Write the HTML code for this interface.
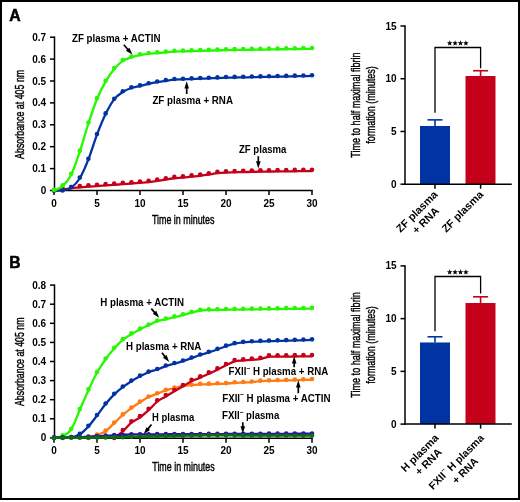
<!DOCTYPE html>
<html><head><meta charset="utf-8"><style>
html,body{margin:0;padding:0;background:#fff;}
svg{display:block;will-change:transform;}
</style></head><body>
<svg width="520" height="502" viewBox="0 0 520 502">
<rect x="0" y="0" width="520" height="502" fill="#fff"/>
<rect x="1" y="1" width="518" height="498" fill="none" stroke="#000" stroke-width="2"/>
<text x="9.2" y="20.5" font-size="15.8" font-weight="bold" stroke="#000" stroke-width="0.5" font-family="'Liberation Sans', sans-serif">A</text>
<text x="9.3" y="268.0" font-size="15.7" font-weight="bold" stroke="#000" stroke-width="0.5" font-family="'Liberation Sans', sans-serif">B</text>
<line x1="54.5" y1="36.45" x2="54.5" y2="191.25" stroke="#000" stroke-width="1.5"/>
<line x1="50.0" y1="190.5" x2="54.5" y2="190.5" stroke="#000" stroke-width="1.5"/><text x="46.2" y="194.0" text-anchor="end" font-size="10" font-weight="bold" font-family="'Liberation Sans', sans-serif">0</text>
<line x1="50.0" y1="168.6" x2="54.5" y2="168.6" stroke="#000" stroke-width="1.5"/><text x="46.2" y="172.1" text-anchor="end" font-size="10" font-weight="bold" font-family="'Liberation Sans', sans-serif">0.1</text>
<line x1="50.0" y1="146.7" x2="54.5" y2="146.7" stroke="#000" stroke-width="1.5"/><text x="46.2" y="150.2" text-anchor="end" font-size="10" font-weight="bold" font-family="'Liberation Sans', sans-serif">0.2</text>
<line x1="50.0" y1="124.8" x2="54.5" y2="124.8" stroke="#000" stroke-width="1.5"/><text x="46.2" y="128.3" text-anchor="end" font-size="10" font-weight="bold" font-family="'Liberation Sans', sans-serif">0.3</text>
<line x1="50.0" y1="102.89999999999999" x2="54.5" y2="102.89999999999999" stroke="#000" stroke-width="1.5"/><text x="46.2" y="106.39999999999999" text-anchor="end" font-size="10" font-weight="bold" font-family="'Liberation Sans', sans-serif">0.4</text>
<line x1="50.0" y1="81.0" x2="54.5" y2="81.0" stroke="#000" stroke-width="1.5"/><text x="46.2" y="84.5" text-anchor="end" font-size="10" font-weight="bold" font-family="'Liberation Sans', sans-serif">0.5</text>
<line x1="50.0" y1="59.099999999999994" x2="54.5" y2="59.099999999999994" stroke="#000" stroke-width="1.5"/><text x="46.2" y="62.599999999999994" text-anchor="end" font-size="10" font-weight="bold" font-family="'Liberation Sans', sans-serif">0.6</text>
<line x1="50.0" y1="37.19999999999999" x2="54.5" y2="37.19999999999999" stroke="#000" stroke-width="1.5"/><text x="46.2" y="40.69999999999999" text-anchor="end" font-size="10" font-weight="bold" font-family="'Liberation Sans', sans-serif">0.7</text>

<line x1="53.75" y1="190.5" x2="312.75" y2="190.5" stroke="#000" stroke-width="1.5"/>
<line x1="54.0" y1="190.5" x2="54.0" y2="195.0" stroke="#000" stroke-width="1.5"/><text x="54.0" y="206.8" text-anchor="middle" font-size="10" font-weight="bold" font-family="'Liberation Sans', sans-serif">0</text>
<line x1="97.0" y1="190.5" x2="97.0" y2="195.0" stroke="#000" stroke-width="1.5"/><text x="97.0" y="206.8" text-anchor="middle" font-size="10" font-weight="bold" font-family="'Liberation Sans', sans-serif">5</text>
<line x1="140.0" y1="190.5" x2="140.0" y2="195.0" stroke="#000" stroke-width="1.5"/><text x="140.0" y="206.8" text-anchor="middle" font-size="10" font-weight="bold" font-family="'Liberation Sans', sans-serif">10</text>
<line x1="183.0" y1="190.5" x2="183.0" y2="195.0" stroke="#000" stroke-width="1.5"/><text x="183.0" y="206.8" text-anchor="middle" font-size="10" font-weight="bold" font-family="'Liberation Sans', sans-serif">15</text>
<line x1="226.0" y1="190.5" x2="226.0" y2="195.0" stroke="#000" stroke-width="1.5"/><text x="226.0" y="206.8" text-anchor="middle" font-size="10" font-weight="bold" font-family="'Liberation Sans', sans-serif">20</text>
<line x1="269.0" y1="190.5" x2="269.0" y2="195.0" stroke="#000" stroke-width="1.5"/><text x="269.0" y="206.8" text-anchor="middle" font-size="10" font-weight="bold" font-family="'Liberation Sans', sans-serif">25</text>
<line x1="312.0" y1="190.5" x2="312.0" y2="195.0" stroke="#000" stroke-width="1.5"/><text x="312.0" y="206.8" text-anchor="middle" font-size="10" font-weight="bold" font-family="'Liberation Sans', sans-serif">30</text>

<path d="M54.00,190.50 C55.43,190.35 59.73,189.99 62.60,189.62 C65.47,189.26 68.33,188.68 71.20,188.31 C74.07,187.94 76.93,187.73 79.80,187.43 C82.67,187.14 85.53,186.78 88.40,186.56 C91.27,186.34 94.13,186.30 97.00,186.12 C99.87,185.94 102.73,185.68 105.60,185.46 C108.47,185.24 111.33,185.03 114.20,184.81 C117.07,184.59 119.93,184.37 122.80,184.15 C125.67,183.93 128.53,183.71 131.40,183.49 C134.27,183.27 137.13,183.05 140.00,182.84 C142.87,182.62 145.73,182.51 148.60,182.18 C151.47,181.85 154.33,181.30 157.20,180.86 C160.07,180.43 162.93,179.99 165.80,179.55 C168.67,179.11 171.53,178.56 174.40,178.24 C177.27,177.91 180.13,177.83 183.00,177.58 C185.87,177.32 188.73,177.00 191.60,176.70 C194.47,176.41 197.33,176.19 200.20,175.83 C203.07,175.46 205.93,174.95 208.80,174.51 C211.67,174.08 214.53,173.53 217.40,173.20 C220.27,172.87 223.13,172.69 226.00,172.54 C228.87,172.40 231.73,172.40 234.60,172.32 C237.47,172.25 240.33,172.18 243.20,172.10 C246.07,172.03 248.93,171.96 251.80,171.88 C254.67,171.81 257.53,171.72 260.40,171.67 C263.27,171.61 266.13,171.59 269.00,171.56 C271.87,171.52 274.73,171.48 277.60,171.45 C280.47,171.41 283.33,171.37 286.20,171.34 C289.07,171.30 291.93,171.26 294.80,171.23 C297.67,171.19 300.53,171.16 303.40,171.12 C306.27,171.08 310.57,171.03 312.00,171.01" fill="none" stroke="#c4001b" stroke-width="2.3" stroke-linejoin="round" stroke-linecap="round"/>
<circle cx="54.00" cy="190.50" r="2.3" fill="#c4001b"/><circle cx="62.60" cy="188.31" r="2.3" fill="#c4001b"/><circle cx="71.20" cy="187.00" r="2.3" fill="#c4001b"/><circle cx="79.80" cy="186.12" r="2.3" fill="#c4001b"/><circle cx="88.40" cy="185.24" r="2.3" fill="#c4001b"/><circle cx="97.00" cy="184.81" r="2.3" fill="#c4001b"/><circle cx="105.60" cy="184.15" r="2.3" fill="#c4001b"/><circle cx="114.20" cy="183.49" r="2.3" fill="#c4001b"/><circle cx="122.80" cy="182.84" r="2.3" fill="#c4001b"/><circle cx="131.40" cy="182.18" r="2.3" fill="#c4001b"/><circle cx="140.00" cy="181.52" r="2.3" fill="#c4001b"/><circle cx="148.60" cy="180.86" r="2.3" fill="#c4001b"/><circle cx="157.20" cy="179.55" r="2.3" fill="#c4001b"/><circle cx="165.80" cy="178.24" r="2.3" fill="#c4001b"/><circle cx="174.40" cy="176.92" r="2.3" fill="#c4001b"/><circle cx="183.00" cy="176.26" r="2.3" fill="#c4001b"/><circle cx="191.60" cy="175.39" r="2.3" fill="#c4001b"/><circle cx="200.20" cy="174.51" r="2.3" fill="#c4001b"/><circle cx="208.80" cy="173.20" r="2.3" fill="#c4001b"/><circle cx="217.40" cy="171.88" r="2.3" fill="#c4001b"/><circle cx="226.00" cy="171.23" r="2.3" fill="#c4001b"/><circle cx="234.60" cy="171.01" r="2.3" fill="#c4001b"/><circle cx="243.20" cy="170.79" r="2.3" fill="#c4001b"/><circle cx="251.80" cy="170.57" r="2.3" fill="#c4001b"/><circle cx="260.40" cy="170.35" r="2.3" fill="#c4001b"/><circle cx="269.00" cy="170.24" r="2.3" fill="#c4001b"/><circle cx="277.60" cy="170.13" r="2.3" fill="#c4001b"/><circle cx="286.20" cy="170.02" r="2.3" fill="#c4001b"/><circle cx="294.80" cy="169.91" r="2.3" fill="#c4001b"/><circle cx="303.40" cy="169.80" r="2.3" fill="#c4001b"/><circle cx="312.00" cy="169.69" r="2.3" fill="#c4001b"/>

<path d="M54.00,190.50 C55.43,190.50 59.73,190.97 62.60,190.50 C65.47,190.03 68.33,189.70 71.20,187.65 C74.07,185.61 76.93,182.94 79.80,178.24 C82.67,173.53 85.53,166.67 88.40,159.40 C91.27,152.14 94.13,142.21 97.00,134.66 C99.87,127.10 102.73,119.95 105.60,114.07 C108.47,108.19 111.33,103.08 114.20,99.40 C117.07,95.71 119.93,93.85 122.80,91.95 C125.67,90.05 128.53,88.99 131.40,88.01 C134.27,87.02 137.13,86.73 140.00,86.04 C142.87,85.34 145.73,84.50 148.60,83.85 C151.47,83.19 154.33,82.61 157.20,82.09 C160.07,81.58 162.93,81.18 165.80,80.78 C168.67,80.38 171.53,79.92 174.40,79.69 C177.27,79.45 180.13,79.47 183.00,79.36 C185.87,79.25 188.73,79.14 191.60,79.03 C194.47,78.92 197.33,78.81 200.20,78.70 C203.07,78.59 205.93,78.48 208.80,78.37 C211.67,78.26 214.53,78.15 217.40,78.04 C220.27,77.93 223.13,77.80 226.00,77.72 C228.87,77.63 231.73,77.60 234.60,77.54 C237.47,77.48 240.33,77.42 243.20,77.36 C246.07,77.31 248.93,77.25 251.80,77.19 C254.67,77.13 257.53,77.07 260.40,77.01 C263.27,76.96 266.13,76.90 269.00,76.84 C271.87,76.78 274.73,76.72 277.60,76.66 C280.47,76.61 283.33,76.55 286.20,76.49 C289.07,76.43 291.93,76.37 294.80,76.31 C297.67,76.25 300.53,76.20 303.40,76.14 C306.27,76.08 310.57,75.99 312.00,75.96" fill="none" stroke="#0233a3" stroke-width="2.3" stroke-linejoin="round" stroke-linecap="round"/>
<circle cx="54.00" cy="190.50" r="2.3" fill="#0233a3"/><circle cx="62.60" cy="190.50" r="2.3" fill="#0233a3"/><circle cx="71.20" cy="187.00" r="2.3" fill="#0233a3"/><circle cx="79.80" cy="177.58" r="2.3" fill="#0233a3"/><circle cx="88.40" cy="158.75" r="2.3" fill="#0233a3"/><circle cx="97.00" cy="134.00" r="2.3" fill="#0233a3"/><circle cx="105.60" cy="113.41" r="2.3" fill="#0233a3"/><circle cx="114.20" cy="98.74" r="2.3" fill="#0233a3"/><circle cx="122.80" cy="91.29" r="2.3" fill="#0233a3"/><circle cx="131.40" cy="87.35" r="2.3" fill="#0233a3"/><circle cx="140.00" cy="85.38" r="2.3" fill="#0233a3"/><circle cx="148.60" cy="83.19" r="2.3" fill="#0233a3"/><circle cx="157.20" cy="81.44" r="2.3" fill="#0233a3"/><circle cx="165.80" cy="80.12" r="2.3" fill="#0233a3"/><circle cx="174.40" cy="79.03" r="2.3" fill="#0233a3"/><circle cx="183.00" cy="78.70" r="2.3" fill="#0233a3"/><circle cx="191.60" cy="78.37" r="2.3" fill="#0233a3"/><circle cx="200.20" cy="78.04" r="2.3" fill="#0233a3"/><circle cx="208.80" cy="77.72" r="2.3" fill="#0233a3"/><circle cx="217.40" cy="77.39" r="2.3" fill="#0233a3"/><circle cx="226.00" cy="77.06" r="2.3" fill="#0233a3"/><circle cx="234.60" cy="76.88" r="2.3" fill="#0233a3"/><circle cx="243.20" cy="76.71" r="2.3" fill="#0233a3"/><circle cx="251.80" cy="76.53" r="2.3" fill="#0233a3"/><circle cx="260.40" cy="76.36" r="2.3" fill="#0233a3"/><circle cx="269.00" cy="76.18" r="2.3" fill="#0233a3"/><circle cx="277.60" cy="76.01" r="2.3" fill="#0233a3"/><circle cx="286.20" cy="75.83" r="2.3" fill="#0233a3"/><circle cx="294.80" cy="75.66" r="2.3" fill="#0233a3"/><circle cx="303.40" cy="75.48" r="2.3" fill="#0233a3"/><circle cx="312.00" cy="75.31" r="2.3" fill="#0233a3"/>

<path d="M54.00,190.50 C55.43,189.77 59.73,188.75 62.60,186.12 C65.47,183.49 68.33,180.50 71.20,174.73 C74.07,168.97 76.93,160.06 79.80,151.52 C82.67,142.98 85.53,132.25 88.40,123.49 C91.27,114.73 94.13,105.93 97.00,98.96 C99.87,91.99 102.73,86.66 105.60,81.66 C108.47,76.66 111.33,72.42 114.20,68.95 C117.07,65.49 119.93,62.79 122.80,60.85 C125.67,58.92 128.53,58.30 131.40,57.35 C134.27,56.40 137.13,55.74 140.00,55.16 C142.87,54.57 145.73,54.17 148.60,53.84 C151.47,53.52 154.33,53.44 157.20,53.19 C160.07,52.93 162.93,52.57 165.80,52.31 C168.67,52.06 171.53,51.81 174.40,51.65 C177.27,51.50 180.13,51.48 183.00,51.40 C185.87,51.31 188.73,51.23 191.60,51.14 C194.47,51.06 197.33,50.97 200.20,50.89 C203.07,50.80 205.93,50.72 208.80,50.63 C211.67,50.55 214.53,50.46 217.40,50.38 C220.27,50.29 223.13,50.19 226.00,50.12 C228.87,50.06 231.73,50.03 234.60,49.99 C237.47,49.95 240.33,49.90 243.20,49.86 C246.07,49.81 248.93,49.77 251.80,49.73 C254.67,49.68 257.53,49.64 260.40,49.60 C263.27,49.55 266.13,49.51 269.00,49.46 C271.87,49.42 274.73,49.38 277.60,49.33 C280.47,49.29 283.33,49.24 286.20,49.20 C289.07,49.16 291.93,49.11 294.80,49.07 C297.67,49.03 300.53,48.98 303.40,48.94 C306.27,48.89 310.57,48.83 312.00,48.81" fill="none" stroke="#26f800" stroke-width="2.3" stroke-linejoin="round" stroke-linecap="round"/>
<circle cx="54.00" cy="189.84" r="2.3" fill="#26f800"/><circle cx="62.60" cy="185.24" r="2.3" fill="#26f800"/><circle cx="71.20" cy="173.86" r="2.3" fill="#26f800"/><circle cx="79.80" cy="150.64" r="2.3" fill="#26f800"/><circle cx="88.40" cy="122.61" r="2.3" fill="#26f800"/><circle cx="97.00" cy="98.08" r="2.3" fill="#26f800"/><circle cx="105.60" cy="80.78" r="2.3" fill="#26f800"/><circle cx="114.20" cy="68.08" r="2.3" fill="#26f800"/><circle cx="122.80" cy="59.98" r="2.3" fill="#26f800"/><circle cx="131.40" cy="56.47" r="2.3" fill="#26f800"/><circle cx="140.00" cy="54.28" r="2.3" fill="#26f800"/><circle cx="148.60" cy="52.97" r="2.3" fill="#26f800"/><circle cx="157.20" cy="52.31" r="2.3" fill="#26f800"/><circle cx="165.80" cy="51.44" r="2.3" fill="#26f800"/><circle cx="174.40" cy="50.78" r="2.3" fill="#26f800"/><circle cx="183.00" cy="50.52" r="2.3" fill="#26f800"/><circle cx="191.60" cy="50.27" r="2.3" fill="#26f800"/><circle cx="200.20" cy="50.01" r="2.3" fill="#26f800"/><circle cx="208.80" cy="49.76" r="2.3" fill="#26f800"/><circle cx="217.40" cy="49.50" r="2.3" fill="#26f800"/><circle cx="226.00" cy="49.25" r="2.3" fill="#26f800"/><circle cx="234.60" cy="49.11" r="2.3" fill="#26f800"/><circle cx="243.20" cy="48.98" r="2.3" fill="#26f800"/><circle cx="251.80" cy="48.85" r="2.3" fill="#26f800"/><circle cx="260.40" cy="48.72" r="2.3" fill="#26f800"/><circle cx="269.00" cy="48.59" r="2.3" fill="#26f800"/><circle cx="277.60" cy="48.46" r="2.3" fill="#26f800"/><circle cx="286.20" cy="48.33" r="2.3" fill="#26f800"/><circle cx="294.80" cy="48.19" r="2.3" fill="#26f800"/><circle cx="303.40" cy="48.06" r="2.3" fill="#26f800"/><circle cx="312.00" cy="47.93" r="2.3" fill="#26f800"/>

<text x="72" y="42.3" font-size="10.0" font-weight="bold" text-anchor="start" textLength="88.4" lengthAdjust="spacingAndGlyphs" font-family="'Liberation Sans', sans-serif">ZF plasma + ACTIN</text>

<line x1="123.80" y1="44.80" x2="128.31" y2="49.94" stroke="#000" stroke-width="1.7"/><path d="M132.40,54.60 L125.92,50.71 L129.38,47.67 Z" fill="#000"/>

<text x="152.4" y="103.7" font-size="10.0" font-weight="bold" text-anchor="start" textLength="80.6" lengthAdjust="spacingAndGlyphs" font-family="'Liberation Sans', sans-serif">ZF plasma + RNA</text>

<line x1="186.70" y1="94.00" x2="186.70" y2="87.50" stroke="#000" stroke-width="1.7"/><path d="M186.70,81.30 L189.00,88.50 L184.40,88.50 Z" fill="#000"/>

<text x="239.0" y="152.8" font-size="10.0" font-weight="bold" text-anchor="start" textLength="47.4" lengthAdjust="spacingAndGlyphs" font-family="'Liberation Sans', sans-serif">ZF plasma</text>

<line x1="258.30" y1="156.20" x2="258.30" y2="162.20" stroke="#000" stroke-width="1.7"/><path d="M258.30,168.40 L256.00,161.20 L260.60,161.20 Z" fill="#000"/>

<text transform="translate(24.1,114.35) rotate(-90)" text-anchor="middle" font-size="13" textLength="89.1" lengthAdjust="spacingAndGlyphs" stroke="#000" stroke-width="0.42" font-family="'Liberation Sans', sans-serif">Absorbance at 405 nm</text>
<text x="151.9" y="223.9" font-size="13" textLength="62.6" lengthAdjust="spacingAndGlyphs" stroke="#000" stroke-width="0.42" font-family="'Liberation Sans', sans-serif">Time in minutes</text>
<line x1="54.5" y1="284.35" x2="54.5" y2="438.65" stroke="#000" stroke-width="1.5"/>
<line x1="50.0" y1="437.9" x2="54.5" y2="437.9" stroke="#000" stroke-width="1.5"/><text x="46.2" y="441.4" text-anchor="end" font-size="10" font-weight="bold" font-family="'Liberation Sans', sans-serif">0</text>
<line x1="50.0" y1="418.79999999999995" x2="54.5" y2="418.79999999999995" stroke="#000" stroke-width="1.5"/><text x="46.2" y="422.29999999999995" text-anchor="end" font-size="10" font-weight="bold" font-family="'Liberation Sans', sans-serif">0.1</text>
<line x1="50.0" y1="399.7" x2="54.5" y2="399.7" stroke="#000" stroke-width="1.5"/><text x="46.2" y="403.2" text-anchor="end" font-size="10" font-weight="bold" font-family="'Liberation Sans', sans-serif">0.2</text>
<line x1="50.0" y1="380.59999999999997" x2="54.5" y2="380.59999999999997" stroke="#000" stroke-width="1.5"/><text x="46.2" y="384.09999999999997" text-anchor="end" font-size="10" font-weight="bold" font-family="'Liberation Sans', sans-serif">0.3</text>
<line x1="50.0" y1="361.5" x2="54.5" y2="361.5" stroke="#000" stroke-width="1.5"/><text x="46.2" y="365.0" text-anchor="end" font-size="10" font-weight="bold" font-family="'Liberation Sans', sans-serif">0.4</text>
<line x1="50.0" y1="342.4" x2="54.5" y2="342.4" stroke="#000" stroke-width="1.5"/><text x="46.2" y="345.9" text-anchor="end" font-size="10" font-weight="bold" font-family="'Liberation Sans', sans-serif">0.5</text>
<line x1="50.0" y1="323.29999999999995" x2="54.5" y2="323.29999999999995" stroke="#000" stroke-width="1.5"/><text x="46.2" y="326.79999999999995" text-anchor="end" font-size="10" font-weight="bold" font-family="'Liberation Sans', sans-serif">0.6</text>
<line x1="50.0" y1="304.19999999999993" x2="54.5" y2="304.19999999999993" stroke="#000" stroke-width="1.5"/><text x="46.2" y="307.69999999999993" text-anchor="end" font-size="10" font-weight="bold" font-family="'Liberation Sans', sans-serif">0.7</text>
<line x1="50.0" y1="285.09999999999997" x2="54.5" y2="285.09999999999997" stroke="#000" stroke-width="1.5"/><text x="46.2" y="288.59999999999997" text-anchor="end" font-size="10" font-weight="bold" font-family="'Liberation Sans', sans-serif">0.8</text>

<line x1="53.75" y1="438.2" x2="312.75" y2="438.2" stroke="#000" stroke-width="1.5"/>
<line x1="54.0" y1="438.2" x2="54.0" y2="442.7" stroke="#000" stroke-width="1.5"/><text x="54.0" y="454.2" text-anchor="middle" font-size="10" font-weight="bold" font-family="'Liberation Sans', sans-serif">0</text>
<line x1="97.0" y1="438.2" x2="97.0" y2="442.7" stroke="#000" stroke-width="1.5"/><text x="97.0" y="454.2" text-anchor="middle" font-size="10" font-weight="bold" font-family="'Liberation Sans', sans-serif">5</text>
<line x1="140.0" y1="438.2" x2="140.0" y2="442.7" stroke="#000" stroke-width="1.5"/><text x="140.0" y="454.2" text-anchor="middle" font-size="10" font-weight="bold" font-family="'Liberation Sans', sans-serif">10</text>
<line x1="183.0" y1="438.2" x2="183.0" y2="442.7" stroke="#000" stroke-width="1.5"/><text x="183.0" y="454.2" text-anchor="middle" font-size="10" font-weight="bold" font-family="'Liberation Sans', sans-serif">15</text>
<line x1="226.0" y1="438.2" x2="226.0" y2="442.7" stroke="#000" stroke-width="1.5"/><text x="226.0" y="454.2" text-anchor="middle" font-size="10" font-weight="bold" font-family="'Liberation Sans', sans-serif">20</text>
<line x1="269.0" y1="438.2" x2="269.0" y2="442.7" stroke="#000" stroke-width="1.5"/><text x="269.0" y="454.2" text-anchor="middle" font-size="10" font-weight="bold" font-family="'Liberation Sans', sans-serif">25</text>
<line x1="312.0" y1="438.2" x2="312.0" y2="442.7" stroke="#000" stroke-width="1.5"/><text x="312.0" y="454.2" text-anchor="middle" font-size="10" font-weight="bold" font-family="'Liberation Sans', sans-serif">30</text>

<path d="M54.00,437.90 C55.43,437.61 59.73,437.58 62.60,436.18 C65.47,434.78 68.33,433.89 71.20,429.50 C74.07,425.10 76.93,416.38 79.80,409.82 C82.67,403.27 85.53,396.33 88.40,390.15 C91.27,383.97 94.13,377.93 97.00,372.77 C99.87,367.61 102.73,363.25 105.60,359.21 C108.47,355.17 111.33,351.73 114.20,348.51 C117.07,345.30 119.93,342.30 122.80,339.92 C125.67,337.53 128.53,335.94 131.40,334.19 C134.27,332.44 137.13,330.91 140.00,329.41 C142.87,327.92 145.73,326.58 148.60,325.21 C151.47,323.84 154.33,322.19 157.20,321.20 C160.07,320.21 162.93,319.96 165.80,319.29 C168.67,318.62 171.53,317.89 174.40,317.19 C177.27,316.49 180.13,315.85 183.00,315.09 C185.87,314.32 188.73,313.37 191.60,312.60 C194.47,311.84 197.33,310.92 200.20,310.50 C203.07,310.09 205.93,310.22 208.80,310.12 C211.67,310.03 214.53,309.99 217.40,309.93 C220.27,309.87 223.13,309.79 226.00,309.74 C228.87,309.69 231.73,309.66 234.60,309.62 C237.47,309.59 240.33,309.55 243.20,309.51 C246.07,309.47 248.93,309.43 251.80,309.40 C254.67,309.36 257.53,309.32 260.40,309.28 C263.27,309.24 266.13,309.20 269.00,309.17 C271.87,309.13 274.73,309.09 277.60,309.05 C280.47,309.01 283.33,308.97 286.20,308.94 C289.07,308.90 291.93,308.86 294.80,308.82 C297.67,308.78 300.53,308.75 303.40,308.71 C306.27,308.67 310.57,308.61 312.00,308.59" fill="none" stroke="#26f800" stroke-width="2.3" stroke-linejoin="round" stroke-linecap="round"/>
<circle cx="54.00" cy="437.90" r="2.3" fill="#26f800"/><circle cx="62.60" cy="435.42" r="2.3" fill="#26f800"/><circle cx="71.20" cy="428.73" r="2.3" fill="#26f800"/><circle cx="79.80" cy="409.06" r="2.3" fill="#26f800"/><circle cx="88.40" cy="389.39" r="2.3" fill="#26f800"/><circle cx="97.00" cy="372.00" r="2.3" fill="#26f800"/><circle cx="105.60" cy="358.44" r="2.3" fill="#26f800"/><circle cx="114.20" cy="347.75" r="2.3" fill="#26f800"/><circle cx="122.80" cy="339.15" r="2.3" fill="#26f800"/><circle cx="131.40" cy="333.42" r="2.3" fill="#26f800"/><circle cx="140.00" cy="328.65" r="2.3" fill="#26f800"/><circle cx="148.60" cy="324.45" r="2.3" fill="#26f800"/><circle cx="157.20" cy="320.43" r="2.3" fill="#26f800"/><circle cx="165.80" cy="318.52" r="2.3" fill="#26f800"/><circle cx="174.40" cy="316.42" r="2.3" fill="#26f800"/><circle cx="183.00" cy="314.32" r="2.3" fill="#26f800"/><circle cx="191.60" cy="311.84" r="2.3" fill="#26f800"/><circle cx="200.20" cy="309.74" r="2.3" fill="#26f800"/><circle cx="208.80" cy="309.36" r="2.3" fill="#26f800"/><circle cx="217.40" cy="309.17" r="2.3" fill="#26f800"/><circle cx="226.00" cy="308.97" r="2.3" fill="#26f800"/><circle cx="234.60" cy="308.86" r="2.3" fill="#26f800"/><circle cx="243.20" cy="308.75" r="2.3" fill="#26f800"/><circle cx="251.80" cy="308.63" r="2.3" fill="#26f800"/><circle cx="260.40" cy="308.52" r="2.3" fill="#26f800"/><circle cx="269.00" cy="308.40" r="2.3" fill="#26f800"/><circle cx="277.60" cy="308.29" r="2.3" fill="#26f800"/><circle cx="286.20" cy="308.17" r="2.3" fill="#26f800"/><circle cx="294.80" cy="308.06" r="2.3" fill="#26f800"/><circle cx="303.40" cy="307.94" r="2.3" fill="#26f800"/><circle cx="312.00" cy="307.83" r="2.3" fill="#26f800"/>

<path d="M54.00,437.90 C55.43,437.90 59.73,437.96 62.60,437.90 C65.47,437.84 68.33,438.12 71.20,437.52 C74.07,436.91 76.93,436.12 79.80,434.27 C82.67,432.42 85.53,429.56 88.40,426.44 C91.27,423.32 94.13,419.28 97.00,415.55 C99.87,411.83 102.73,407.63 105.60,404.09 C108.47,400.56 111.33,397.19 114.20,394.35 C117.07,391.52 119.93,389.29 122.80,387.09 C125.67,384.90 128.53,382.99 131.40,381.17 C134.27,379.36 137.13,377.70 140.00,376.21 C142.87,374.71 145.73,373.31 148.60,372.20 C151.47,371.08 154.33,370.54 157.20,369.52 C160.07,368.50 162.93,367.07 165.80,366.08 C168.67,365.10 171.53,364.43 174.40,363.60 C177.27,362.77 180.13,362.04 183.00,361.12 C185.87,360.19 188.73,359.08 191.60,358.06 C194.47,357.04 197.33,355.96 200.20,355.01 C203.07,354.05 205.93,353.26 208.80,352.33 C211.67,351.41 214.53,350.49 217.40,349.47 C220.27,348.45 223.13,347.17 226.00,346.22 C228.87,345.26 231.73,344.37 234.60,343.74 C237.47,343.10 240.33,342.72 243.20,342.40 C246.07,342.08 248.93,341.99 251.80,341.83 C254.67,341.67 257.53,341.55 260.40,341.44 C263.27,341.34 266.13,341.28 269.00,341.19 C271.87,341.11 274.73,341.02 277.60,340.94 C280.47,340.85 283.33,340.77 286.20,340.68 C289.07,340.60 291.93,340.51 294.80,340.43 C297.67,340.34 300.53,340.26 303.40,340.17 C306.27,340.09 310.57,339.96 312.00,339.92" fill="none" stroke="#0233a3" stroke-width="2.3" stroke-linejoin="round" stroke-linecap="round"/>
<circle cx="54.00" cy="437.90" r="2.3" fill="#0233a3"/><circle cx="62.60" cy="437.90" r="2.3" fill="#0233a3"/><circle cx="71.20" cy="436.94" r="2.3" fill="#0233a3"/><circle cx="79.80" cy="433.70" r="2.3" fill="#0233a3"/><circle cx="88.40" cy="425.87" r="2.3" fill="#0233a3"/><circle cx="97.00" cy="414.98" r="2.3" fill="#0233a3"/><circle cx="105.60" cy="403.52" r="2.3" fill="#0233a3"/><circle cx="114.20" cy="393.78" r="2.3" fill="#0233a3"/><circle cx="122.80" cy="386.52" r="2.3" fill="#0233a3"/><circle cx="131.40" cy="380.60" r="2.3" fill="#0233a3"/><circle cx="140.00" cy="375.63" r="2.3" fill="#0233a3"/><circle cx="148.60" cy="371.62" r="2.3" fill="#0233a3"/><circle cx="157.20" cy="368.95" r="2.3" fill="#0233a3"/><circle cx="165.80" cy="365.51" r="2.3" fill="#0233a3"/><circle cx="174.40" cy="363.03" r="2.3" fill="#0233a3"/><circle cx="183.00" cy="360.54" r="2.3" fill="#0233a3"/><circle cx="191.60" cy="357.49" r="2.3" fill="#0233a3"/><circle cx="200.20" cy="354.43" r="2.3" fill="#0233a3"/><circle cx="208.80" cy="351.76" r="2.3" fill="#0233a3"/><circle cx="217.40" cy="348.89" r="2.3" fill="#0233a3"/><circle cx="226.00" cy="345.65" r="2.3" fill="#0233a3"/><circle cx="234.60" cy="343.16" r="2.3" fill="#0233a3"/><circle cx="243.20" cy="341.83" r="2.3" fill="#0233a3"/><circle cx="251.80" cy="341.25" r="2.3" fill="#0233a3"/><circle cx="260.40" cy="340.87" r="2.3" fill="#0233a3"/><circle cx="269.00" cy="340.62" r="2.3" fill="#0233a3"/><circle cx="277.60" cy="340.36" r="2.3" fill="#0233a3"/><circle cx="286.20" cy="340.11" r="2.3" fill="#0233a3"/><circle cx="294.80" cy="339.85" r="2.3" fill="#0233a3"/><circle cx="303.40" cy="339.60" r="2.3" fill="#0233a3"/><circle cx="312.00" cy="339.34" r="2.3" fill="#0233a3"/>

<path d="M88.40,437.90 C89.83,437.42 94.13,436.15 97.00,435.03 C99.87,433.92 102.73,433.19 105.60,431.21 C108.47,429.24 111.33,425.90 114.20,423.19 C117.07,420.49 119.93,417.49 122.80,414.98 C125.67,412.47 128.53,410.24 131.40,408.10 C134.27,405.97 137.13,404.03 140.00,402.18 C142.87,400.34 145.73,398.43 148.60,397.03 C151.47,395.63 154.33,394.89 157.20,393.78 C160.07,392.66 162.93,391.26 165.80,390.34 C168.67,389.42 171.53,388.97 174.40,388.24 C177.27,387.51 180.13,386.46 183.00,385.95 C185.87,385.44 188.73,385.44 191.60,385.18 C194.47,384.93 197.33,384.58 200.20,384.42 C203.07,384.26 205.93,384.32 208.80,384.23 C211.67,384.13 214.53,383.94 217.40,383.85 C220.27,383.75 223.13,383.82 226.00,383.66 C228.87,383.50 231.73,383.08 234.60,382.89 C237.47,382.70 240.33,382.64 243.20,382.51 C246.07,382.38 248.93,382.35 251.80,382.13 C254.67,381.91 257.53,381.37 260.40,381.17 C263.27,380.97 266.13,381.00 269.00,380.92 C271.87,380.83 274.73,380.75 277.60,380.66 C280.47,380.58 283.33,380.49 286.20,380.41 C289.07,380.32 291.93,380.24 294.80,380.15 C297.67,380.07 300.53,379.98 303.40,379.90 C306.27,379.81 310.57,379.69 312.00,379.64" fill="none" stroke="#ff7a10" stroke-width="2.3" stroke-linejoin="round" stroke-linecap="round"/>
<circle cx="88.40" cy="437.90" r="2.3" fill="#ff7a10"/><circle cx="97.00" cy="434.46" r="2.3" fill="#ff7a10"/><circle cx="105.60" cy="430.64" r="2.3" fill="#ff7a10"/><circle cx="114.20" cy="422.62" r="2.3" fill="#ff7a10"/><circle cx="122.80" cy="414.41" r="2.3" fill="#ff7a10"/><circle cx="131.40" cy="407.53" r="2.3" fill="#ff7a10"/><circle cx="140.00" cy="401.61" r="2.3" fill="#ff7a10"/><circle cx="148.60" cy="396.45" r="2.3" fill="#ff7a10"/><circle cx="157.20" cy="393.21" r="2.3" fill="#ff7a10"/><circle cx="165.80" cy="389.77" r="2.3" fill="#ff7a10"/><circle cx="174.40" cy="387.67" r="2.3" fill="#ff7a10"/><circle cx="183.00" cy="385.38" r="2.3" fill="#ff7a10"/><circle cx="191.60" cy="384.61" r="2.3" fill="#ff7a10"/><circle cx="200.20" cy="383.85" r="2.3" fill="#ff7a10"/><circle cx="208.80" cy="383.66" r="2.3" fill="#ff7a10"/><circle cx="217.40" cy="383.27" r="2.3" fill="#ff7a10"/><circle cx="226.00" cy="383.08" r="2.3" fill="#ff7a10"/><circle cx="234.60" cy="382.32" r="2.3" fill="#ff7a10"/><circle cx="243.20" cy="381.94" r="2.3" fill="#ff7a10"/><circle cx="251.80" cy="381.55" r="2.3" fill="#ff7a10"/><circle cx="260.40" cy="380.60" r="2.3" fill="#ff7a10"/><circle cx="269.00" cy="380.35" r="2.3" fill="#ff7a10"/><circle cx="277.60" cy="380.09" r="2.3" fill="#ff7a10"/><circle cx="286.20" cy="379.84" r="2.3" fill="#ff7a10"/><circle cx="294.80" cy="379.58" r="2.3" fill="#ff7a10"/><circle cx="303.40" cy="379.33" r="2.3" fill="#ff7a10"/><circle cx="312.00" cy="379.07" r="2.3" fill="#ff7a10"/>

<path d="M114.20,437.90 C115.63,436.82 119.93,433.95 122.80,431.41 C125.67,428.86 128.53,424.94 131.40,422.62 C134.27,420.30 137.13,419.53 140.00,417.46 C142.87,415.39 145.73,412.85 148.60,410.20 C151.47,407.56 154.33,403.90 157.20,401.61 C160.07,399.32 162.93,398.17 165.80,396.45 C168.67,394.73 171.53,392.98 174.40,391.30 C177.27,389.61 180.13,388.02 183.00,386.33 C185.87,384.64 188.73,382.61 191.60,381.17 C194.47,379.74 197.33,378.98 200.20,377.73 C203.07,376.49 205.93,375.06 208.80,373.72 C211.67,372.39 214.53,371.11 217.40,369.71 C220.27,368.31 223.13,366.72 226.00,365.32 C228.87,363.92 231.73,362.10 234.60,361.31 C237.47,360.51 240.33,360.80 243.20,360.54 C246.07,360.29 248.93,360.04 251.80,359.78 C254.67,359.53 257.53,359.53 260.40,359.02 C263.27,358.51 266.13,357.12 269.00,356.72 C271.87,356.33 274.73,356.67 277.60,356.65 C280.47,356.62 283.33,356.60 286.20,356.57 C289.07,356.55 291.93,356.52 294.80,356.50 C297.67,356.47 300.53,356.44 303.40,356.42 C306.27,356.39 310.57,356.36 312.00,356.34" fill="none" stroke="#c4001b" stroke-width="2.3" stroke-linejoin="round" stroke-linecap="round"/>
<circle cx="114.20" cy="437.90" r="2.3" fill="#c4001b"/><circle cx="122.80" cy="430.07" r="2.3" fill="#c4001b"/><circle cx="131.40" cy="421.28" r="2.3" fill="#c4001b"/><circle cx="140.00" cy="416.13" r="2.3" fill="#c4001b"/><circle cx="148.60" cy="408.87" r="2.3" fill="#c4001b"/><circle cx="157.20" cy="400.27" r="2.3" fill="#c4001b"/><circle cx="165.80" cy="395.12" r="2.3" fill="#c4001b"/><circle cx="174.40" cy="389.96" r="2.3" fill="#c4001b"/><circle cx="183.00" cy="384.99" r="2.3" fill="#c4001b"/><circle cx="191.60" cy="379.84" r="2.3" fill="#c4001b"/><circle cx="200.20" cy="376.40" r="2.3" fill="#c4001b"/><circle cx="208.80" cy="372.39" r="2.3" fill="#c4001b"/><circle cx="217.40" cy="368.38" r="2.3" fill="#c4001b"/><circle cx="226.00" cy="363.98" r="2.3" fill="#c4001b"/><circle cx="234.60" cy="359.97" r="2.3" fill="#c4001b"/><circle cx="243.20" cy="359.21" r="2.3" fill="#c4001b"/><circle cx="251.80" cy="358.44" r="2.3" fill="#c4001b"/><circle cx="260.40" cy="357.68" r="2.3" fill="#c4001b"/><circle cx="269.00" cy="355.39" r="2.3" fill="#c4001b"/><circle cx="277.60" cy="355.31" r="2.3" fill="#c4001b"/><circle cx="286.20" cy="355.24" r="2.3" fill="#c4001b"/><circle cx="294.80" cy="355.16" r="2.3" fill="#c4001b"/><circle cx="303.40" cy="355.08" r="2.3" fill="#c4001b"/><circle cx="312.00" cy="355.01" r="2.3" fill="#c4001b"/>

<path d="M54.00,437.52 C55.43,437.50 59.73,437.43 62.60,437.39 C65.47,437.35 68.33,437.31 71.20,437.26 C74.07,437.22 76.93,437.23 79.80,437.14 C82.67,437.04 85.53,436.84 88.40,436.69 C91.27,436.54 94.13,436.39 97.00,436.24 C99.87,436.10 102.73,435.95 105.60,435.80 C108.47,435.65 111.33,435.50 114.20,435.35 C117.07,435.20 119.93,435.06 122.80,434.91 C125.67,434.76 128.53,434.54 131.40,434.46 C134.27,434.38 137.13,434.43 140.00,434.42 C142.87,434.41 145.73,434.39 148.60,434.38 C151.47,434.36 154.33,434.35 157.20,434.33 C160.07,434.32 162.93,434.31 165.80,434.29 C168.67,434.28 171.53,434.26 174.40,434.25 C177.27,434.24 180.13,434.22 183.00,434.21 C185.87,434.19 188.73,434.18 191.60,434.16 C194.47,434.15 197.33,434.14 200.20,434.12 C203.07,434.11 205.93,434.09 208.80,434.08 C211.67,434.07 214.53,434.06 217.40,434.05 C220.27,434.04 223.13,434.03 226.00,434.02 C228.87,434.01 231.73,434.00 234.60,433.98 C237.47,433.97 240.33,433.96 243.20,433.95 C246.07,433.94 248.93,433.93 251.80,433.92 C254.67,433.91 257.53,433.90 260.40,433.89 C263.27,433.88 266.13,433.87 269.00,433.86 C271.87,433.85 274.73,433.84 277.60,433.83 C280.47,433.81 283.33,433.80 286.20,433.79 C289.07,433.78 291.93,433.77 294.80,433.76 C297.67,433.75 300.53,433.74 303.40,433.73 C306.27,433.72 310.57,433.70 312.00,433.70" fill="none" stroke="#2a10a8" stroke-width="2.3" stroke-linejoin="round" stroke-linecap="round"/>
<circle cx="54.00" cy="437.33" r="2.3" fill="#2a10a8"/><circle cx="62.60" cy="437.20" r="2.3" fill="#2a10a8"/><circle cx="71.20" cy="437.07" r="2.3" fill="#2a10a8"/><circle cx="79.80" cy="436.94" r="2.3" fill="#2a10a8"/><circle cx="88.40" cy="436.50" r="2.3" fill="#2a10a8"/><circle cx="97.00" cy="436.05" r="2.3" fill="#2a10a8"/><circle cx="105.60" cy="435.61" r="2.3" fill="#2a10a8"/><circle cx="114.20" cy="435.16" r="2.3" fill="#2a10a8"/><circle cx="122.80" cy="434.72" r="2.3" fill="#2a10a8"/><circle cx="131.40" cy="434.27" r="2.3" fill="#2a10a8"/><circle cx="140.00" cy="434.23" r="2.3" fill="#2a10a8"/><circle cx="148.60" cy="434.19" r="2.3" fill="#2a10a8"/><circle cx="157.20" cy="434.14" r="2.3" fill="#2a10a8"/><circle cx="165.80" cy="434.10" r="2.3" fill="#2a10a8"/><circle cx="174.40" cy="434.06" r="2.3" fill="#2a10a8"/><circle cx="183.00" cy="434.02" r="2.3" fill="#2a10a8"/><circle cx="191.60" cy="433.97" r="2.3" fill="#2a10a8"/><circle cx="200.20" cy="433.93" r="2.3" fill="#2a10a8"/><circle cx="208.80" cy="433.89" r="2.3" fill="#2a10a8"/><circle cx="217.40" cy="433.86" r="2.3" fill="#2a10a8"/><circle cx="226.00" cy="433.83" r="2.3" fill="#2a10a8"/><circle cx="234.60" cy="433.79" r="2.3" fill="#2a10a8"/><circle cx="243.20" cy="433.76" r="2.3" fill="#2a10a8"/><circle cx="251.80" cy="433.73" r="2.3" fill="#2a10a8"/><circle cx="260.40" cy="433.70" r="2.3" fill="#2a10a8"/><circle cx="269.00" cy="433.67" r="2.3" fill="#2a10a8"/><circle cx="277.60" cy="433.63" r="2.3" fill="#2a10a8"/><circle cx="286.20" cy="433.60" r="2.3" fill="#2a10a8"/><circle cx="294.80" cy="433.57" r="2.3" fill="#2a10a8"/><circle cx="303.40" cy="433.54" r="2.3" fill="#2a10a8"/><circle cx="312.00" cy="433.51" r="2.3" fill="#2a10a8"/>

<path d="M54.00,437.71 C55.43,437.71 59.73,437.71 62.60,437.71 C65.47,437.71 68.33,437.71 71.20,437.71 C74.07,437.71 76.93,437.71 79.80,437.71 C82.67,437.71 85.53,437.73 88.40,437.71 C91.27,437.69 94.13,437.61 97.00,437.57 C99.87,437.52 102.73,437.47 105.60,437.42 C108.47,437.37 111.33,437.33 114.20,437.28 C117.07,437.23 119.93,437.21 122.80,437.14 C125.67,437.06 128.53,436.94 131.40,436.85 C134.27,436.75 137.13,436.64 140.00,436.56 C142.87,436.48 145.73,436.44 148.60,436.37 C151.47,436.31 154.33,436.24 157.20,436.18 C160.07,436.12 162.93,436.05 165.80,435.99 C168.67,435.93 171.53,435.85 174.40,435.80 C177.27,435.75 180.13,435.72 183.00,435.68 C185.87,435.64 188.73,435.60 191.60,435.56 C194.47,435.52 197.33,435.48 200.20,435.44 C203.07,435.40 205.93,435.34 208.80,435.32 C211.67,435.30 214.53,435.33 217.40,435.34 C220.27,435.34 223.13,435.35 226.00,435.35 C228.87,435.36 231.73,435.36 234.60,435.37 C237.47,435.37 240.33,435.38 243.20,435.39 C246.07,435.39 248.93,435.40 251.80,435.40 C254.67,435.41 257.53,435.41 260.40,435.42 C263.27,435.42 266.13,435.44 269.00,435.45 C271.87,435.46 274.73,435.47 277.60,435.48 C280.47,435.49 283.33,435.50 286.20,435.51 C289.07,435.52 291.93,435.53 294.80,435.54 C297.67,435.55 300.53,435.57 303.40,435.58 C306.27,435.59 310.57,435.60 312.00,435.61" fill="none" stroke="#0c6e10" stroke-width="2.5" stroke-linejoin="round" stroke-linecap="round"/>
<circle cx="54.00" cy="437.71" r="2.3" fill="#0c6e10"/><circle cx="62.60" cy="437.71" r="2.3" fill="#0c6e10"/><circle cx="71.20" cy="437.71" r="2.3" fill="#0c6e10"/><circle cx="79.80" cy="437.71" r="2.3" fill="#0c6e10"/><circle cx="88.40" cy="437.71" r="2.3" fill="#0c6e10"/><circle cx="97.00" cy="437.57" r="2.3" fill="#0c6e10"/><circle cx="105.60" cy="437.42" r="2.3" fill="#0c6e10"/><circle cx="114.20" cy="437.28" r="2.3" fill="#0c6e10"/><circle cx="122.80" cy="437.14" r="2.3" fill="#0c6e10"/><circle cx="131.40" cy="436.85" r="2.3" fill="#0c6e10"/><circle cx="140.00" cy="436.56" r="2.3" fill="#0c6e10"/><circle cx="148.60" cy="436.37" r="2.3" fill="#0c6e10"/><circle cx="157.20" cy="436.18" r="2.3" fill="#0c6e10"/><circle cx="165.80" cy="435.99" r="2.3" fill="#0c6e10"/><circle cx="174.40" cy="435.80" r="2.3" fill="#0c6e10"/><circle cx="183.00" cy="435.68" r="2.3" fill="#0c6e10"/><circle cx="191.60" cy="435.56" r="2.3" fill="#0c6e10"/><circle cx="200.20" cy="435.44" r="2.3" fill="#0c6e10"/><circle cx="208.80" cy="435.32" r="2.3" fill="#0c6e10"/><circle cx="217.40" cy="435.34" r="2.3" fill="#0c6e10"/><circle cx="226.00" cy="435.35" r="2.3" fill="#0c6e10"/><circle cx="234.60" cy="435.37" r="2.3" fill="#0c6e10"/><circle cx="243.20" cy="435.39" r="2.3" fill="#0c6e10"/><circle cx="251.80" cy="435.40" r="2.3" fill="#0c6e10"/><circle cx="260.40" cy="435.42" r="2.3" fill="#0c6e10"/><circle cx="269.00" cy="435.45" r="2.3" fill="#0c6e10"/><circle cx="277.60" cy="435.48" r="2.3" fill="#0c6e10"/><circle cx="286.20" cy="435.51" r="2.3" fill="#0c6e10"/><circle cx="294.80" cy="435.54" r="2.3" fill="#0c6e10"/><circle cx="303.40" cy="435.58" r="2.3" fill="#0c6e10"/><circle cx="312.00" cy="435.61" r="2.3" fill="#0c6e10"/>

<text x="100.2" y="305.7" font-size="10.0" font-weight="bold" text-anchor="start" textLength="83.9" lengthAdjust="spacingAndGlyphs" font-family="'Liberation Sans', sans-serif">H plasma + ACTIN</text>

<line x1="151.30" y1="308.60" x2="155.16" y2="313.10" stroke="#000" stroke-width="1.7"/><path d="M159.20,317.80 L152.76,313.84 L156.25,310.84 Z" fill="#000"/>

<text x="126" y="350.1" font-size="10.0" font-weight="bold" text-anchor="start" textLength="75.3" lengthAdjust="spacingAndGlyphs" font-family="'Liberation Sans', sans-serif">H plasma + RNA</text>

<line x1="162.00" y1="352.80" x2="165.38" y2="357.12" stroke="#000" stroke-width="1.7"/><path d="M169.20,362.00 L162.95,357.75 L166.57,354.91 Z" fill="#000"/>

<text x="228.6" y="375.0" font-size="10.0" font-weight="bold" text-anchor="start" textLength="99.7" lengthAdjust="spacingAndGlyphs" font-family="'Liberation Sans', sans-serif">FXII<tspan font-size="7" dy="-5.3">&#8211;</tspan><tspan dy="5.3"> H plasma + RNA</tspan></text>

<line x1="294.20" y1="367.20" x2="294.20" y2="362.40" stroke="#000" stroke-width="1.7"/><path d="M294.20,356.20 L296.50,363.40 L291.90,363.40 Z" fill="#000"/>

<text x="222.2" y="401.6" font-size="10.0" font-weight="bold" text-anchor="start" textLength="108.4" lengthAdjust="spacingAndGlyphs" font-family="'Liberation Sans', sans-serif">FXII<tspan font-size="7" dy="-5.3">&#8211;</tspan><tspan dy="5.3"> H plasma + ACTIN</tspan></text>

<line x1="298.30" y1="393.20" x2="298.30" y2="386.50" stroke="#000" stroke-width="1.7"/><path d="M298.30,380.30 L300.60,387.50 L296.00,387.50 Z" fill="#000"/>

<text x="152.1" y="421.3" font-size="10.0" font-weight="bold" text-anchor="start" textLength="42.1" lengthAdjust="spacingAndGlyphs" font-family="'Liberation Sans', sans-serif">H plasma</text>

<line x1="151.50" y1="424.50" x2="147.59" y2="429.37" stroke="#000" stroke-width="1.7"/><path d="M143.70,434.20 L146.42,427.15 L150.00,430.03 Z" fill="#000"/>

<text x="222" y="418.9" font-size="10.0" font-weight="bold" text-anchor="start" textLength="57.3" lengthAdjust="spacingAndGlyphs" font-family="'Liberation Sans', sans-serif">FXII<tspan font-size="7" dy="-5.3">&#8211;</tspan><tspan dy="5.3"> plasma</tspan></text>

<line x1="242.80" y1="422.30" x2="242.80" y2="427.20" stroke="#000" stroke-width="1.7"/><path d="M242.80,433.40 L240.50,426.20 L245.10,426.20 Z" fill="#000"/>

<text transform="translate(24.1,361.75) rotate(-90)" text-anchor="middle" font-size="13" textLength="88.5" lengthAdjust="spacingAndGlyphs" stroke="#000" stroke-width="0.42" font-family="'Liberation Sans', sans-serif">Absorbance at 405 nm</text>
<text x="152.3" y="471.4" font-size="13" textLength="62.4" lengthAdjust="spacingAndGlyphs" stroke="#000" stroke-width="0.42" font-family="'Liberation Sans', sans-serif">Time in minutes</text>
<rect x="420" y="125.98" width="30" height="58.22" fill="#0233a3"/><rect x="465.5" y="75.99" width="30" height="108.21" fill="#c4001b"/><line x1="435" y1="125.9824" x2="435" y2="119.86533333333334" stroke="#0233a3" stroke-width="1.6"/><line x1="427.5" y1="119.86533333333334" x2="442.5" y2="119.86533333333334" stroke="#0233a3" stroke-width="1.6"/><line x1="480.6" y1="75.9912" x2="480.6" y2="70.71786666666668" stroke="#c4001b" stroke-width="1.6"/><line x1="473.1" y1="70.71786666666668" x2="488.1" y2="70.71786666666668" stroke="#c4001b" stroke-width="1.6"/><line x1="405" y1="25.25" x2="405" y2="184.95" stroke="#000" stroke-width="1.5"/>
<line x1="400.5" y1="184.2" x2="405" y2="184.2" stroke="#000" stroke-width="1.5"/><text x="396.6" y="187.7" text-anchor="end" font-size="10" font-weight="bold" font-family="'Liberation Sans', sans-serif">0</text>
<line x1="400.5" y1="131.46666666666667" x2="405" y2="131.46666666666667" stroke="#000" stroke-width="1.5"/><text x="396.6" y="134.96666666666667" text-anchor="end" font-size="10" font-weight="bold" font-family="'Liberation Sans', sans-serif">5</text>
<line x1="400.5" y1="78.73333333333333" x2="405" y2="78.73333333333333" stroke="#000" stroke-width="1.5"/><text x="396.6" y="82.23333333333333" text-anchor="end" font-size="10" font-weight="bold" font-family="'Liberation Sans', sans-serif">10</text>
<line x1="400.5" y1="26.0" x2="405" y2="26.0" stroke="#000" stroke-width="1.5"/><text x="396.6" y="29.5" text-anchor="end" font-size="10" font-weight="bold" font-family="'Liberation Sans', sans-serif">15</text>
<line x1="404.25" y1="184.2" x2="511.75" y2="184.2" stroke="#000" stroke-width="1.5"/>
<line x1="435" y1="184.2" x2="435" y2="188.7" stroke="#000" stroke-width="1.5"/><line x1="480.6" y1="184.2" x2="480.6" y2="188.7" stroke="#000" stroke-width="1.5"/><path d="M435,112.8 L435,47.5 L480.6,47.5 L480.6,68.3" fill="none" stroke="#000" stroke-width="1.3"/><polygon points="449.70,40.25 450.46,42.15 452.51,42.29 450.94,43.60 451.43,45.59 449.70,44.50 447.97,45.59 448.46,43.60 446.89,42.29 448.94,42.15" fill="#000"/><polygon points="455.10,40.25 455.86,42.15 457.91,42.29 456.34,43.60 456.83,45.59 455.10,44.50 453.37,45.59 453.86,43.60 452.29,42.29 454.34,42.15" fill="#000"/><polygon points="460.50,40.25 461.26,42.15 463.31,42.29 461.74,43.60 462.23,45.59 460.50,44.50 458.77,45.59 459.26,43.60 457.69,42.29 459.74,42.15" fill="#000"/><polygon points="465.90,40.25 466.66,42.15 468.71,42.29 467.14,43.60 467.63,45.59 465.90,44.50 464.17,45.59 464.66,43.60 463.09,42.29 465.14,42.15" fill="#000"/><g transform="translate(438.3,195.3) rotate(-45)"><text font-size="10.8" font-weight="bold" text-anchor="middle" font-family="'Liberation Sans', sans-serif"><tspan x="-26.71" y="0.0">ZF plasma</tspan><tspan x="-26.71" y="12.5">+ RNA</tspan></text></g><g transform="translate(483.9,195.3) rotate(-45)"><text font-size="10.8" font-weight="bold" text-anchor="middle" font-family="'Liberation Sans', sans-serif"><tspan x="-26.71" y="0.0">ZF plasma</tspan></text></g><text transform="translate(359.7,105.1) rotate(-90)" text-anchor="middle" font-size="13" textLength="105.4" lengthAdjust="spacingAndGlyphs" stroke="#000" stroke-width="0.42" font-family="'Liberation Sans', sans-serif">Time to half maximal fibrin</text><text transform="translate(374.8,105.1) rotate(-90)" text-anchor="middle" font-size="13" textLength="77.5" lengthAdjust="spacingAndGlyphs" stroke="#000" stroke-width="0.42" font-family="'Liberation Sans', sans-serif">formation (minutes)</text>
<rect x="420" y="342.47" width="30" height="81.63" fill="#0233a3"/><rect x="465.5" y="303.02" width="30" height="121.08" fill="#c4001b"/><line x1="435" y1="342.4688" x2="435" y2="336.7736" stroke="#0233a3" stroke-width="1.6"/><line x1="427.5" y1="336.7736" x2="442.5" y2="336.7736" stroke="#0233a3" stroke-width="1.6"/><line x1="480.6" y1="303.0242666666667" x2="480.6" y2="296.8017333333333" stroke="#c4001b" stroke-width="1.6"/><line x1="473.1" y1="296.8017333333333" x2="488.1" y2="296.8017333333333" stroke="#c4001b" stroke-width="1.6"/><line x1="405" y1="265.15" x2="405" y2="424.85" stroke="#000" stroke-width="1.5"/>
<line x1="400.5" y1="424.1" x2="405" y2="424.1" stroke="#000" stroke-width="1.5"/><text x="396.6" y="427.6" text-anchor="end" font-size="10" font-weight="bold" font-family="'Liberation Sans', sans-serif">0</text>
<line x1="400.5" y1="371.3666666666667" x2="405" y2="371.3666666666667" stroke="#000" stroke-width="1.5"/><text x="396.6" y="374.8666666666667" text-anchor="end" font-size="10" font-weight="bold" font-family="'Liberation Sans', sans-serif">5</text>
<line x1="400.5" y1="318.6333333333333" x2="405" y2="318.6333333333333" stroke="#000" stroke-width="1.5"/><text x="396.6" y="322.1333333333333" text-anchor="end" font-size="10" font-weight="bold" font-family="'Liberation Sans', sans-serif">10</text>
<line x1="400.5" y1="265.9" x2="405" y2="265.9" stroke="#000" stroke-width="1.5"/><text x="396.6" y="269.4" text-anchor="end" font-size="10" font-weight="bold" font-family="'Liberation Sans', sans-serif">15</text>
<line x1="404.25" y1="424.1" x2="511.75" y2="424.1" stroke="#000" stroke-width="1.5"/>
<line x1="435" y1="424.1" x2="435" y2="428.6" stroke="#000" stroke-width="1.5"/><line x1="480.6" y1="424.1" x2="480.6" y2="428.6" stroke="#000" stroke-width="1.5"/><path d="M435,331.25 L435,276.5 L480.6,276.5 L480.6,293.6" fill="none" stroke="#000" stroke-width="1.3"/><polygon points="449.70,269.25 450.46,271.15 452.51,271.29 450.94,272.60 451.43,274.59 449.70,273.50 447.97,274.59 448.46,272.60 446.89,271.29 448.94,271.15" fill="#000"/><polygon points="455.10,269.25 455.86,271.15 457.91,271.29 456.34,272.60 456.83,274.59 455.10,273.50 453.37,274.59 453.86,272.60 452.29,271.29 454.34,271.15" fill="#000"/><polygon points="460.50,269.25 461.26,271.15 463.31,271.29 461.74,272.60 462.23,274.59 460.50,273.50 458.77,274.59 459.26,272.60 457.69,271.29 459.74,271.15" fill="#000"/><polygon points="465.90,269.25 466.66,271.15 468.71,271.29 467.14,272.60 467.63,274.59 465.90,273.50 464.17,274.59 464.66,272.60 463.09,271.29 465.14,271.15" fill="#000"/><g transform="translate(439.2,438.6) rotate(-45)"><text font-size="10.8" font-weight="bold" text-anchor="middle" font-family="'Liberation Sans', sans-serif"><tspan x="-24.01" y="0.0">H plasma</tspan><tspan x="-24.01" y="12.5">+ RNA</tspan></text></g><g transform="translate(484.4,438.8) rotate(-45)"><text font-size="10.5" font-weight="bold" text-anchor="middle" font-family="'Liberation Sans', sans-serif"><tspan x="-36.23" y="0.0">FXII<tspan font-size="7" dy="-5.3">&#8211;</tspan><tspan dy="5.3"> H plasma</tspan></tspan><tspan x="-36.23" y="12.5">+ RNA</tspan></text></g><text transform="translate(359.7,345.0) rotate(-90)" text-anchor="middle" font-size="13" textLength="105.4" lengthAdjust="spacingAndGlyphs" stroke="#000" stroke-width="0.42" font-family="'Liberation Sans', sans-serif">Time to half maximal fibrin</text><text transform="translate(374.8,345.0) rotate(-90)" text-anchor="middle" font-size="13" textLength="77.5" lengthAdjust="spacingAndGlyphs" stroke="#000" stroke-width="0.42" font-family="'Liberation Sans', sans-serif">formation (minutes)</text>
</svg>
</body></html>
